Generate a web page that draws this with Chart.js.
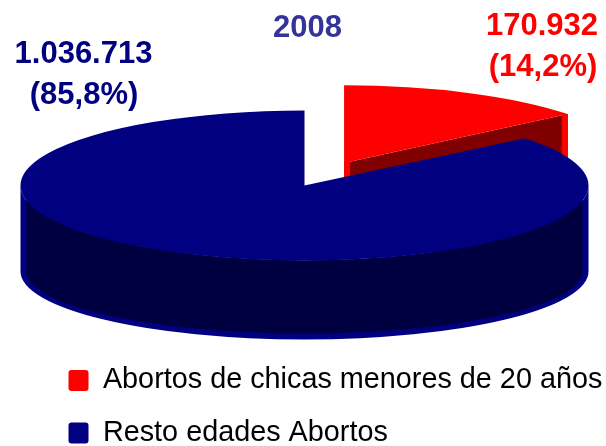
<!DOCTYPE html>
<html>
<head>
<meta charset="utf-8">
<style>
  html, body { margin: 0; padding: 0; background: #fff; }
  canvas { display: block; }
</style>
<script src="https://cdn.jsdelivr.net/npm/chart.js@4"></script>
</head>
<body>
<canvas id="chart" width="606" height="446"></canvas>
<script>
const categories = ["Abortos de chicas menores de 20 años", "Resto edades Abortos"];
const abortos = [170932, 1036713];
const sliceLabels = [["170.932", "(14,2%)"], ["1.036.713", "(85,8%)"]];
const chartTitle = "2008";

const topColors = ["#ff0000", "#000080"];
const wallColors = ["#800000", "#000040"];
const labelColors = ["#ff0000", "#000080"];

// where the flattened pie sits on the page
const centerX = 304.5;
const centerY = 185.5;
const radius = 284;
const flatten = 75 / 284;
const depth = 86;
const rimFlatten = 68 / 284;
const rim = 6;

// the red slice is pulled out and seen a bit more from above
const redRadius = 288;
const redFlatten = 0.27;
const redShift = 92;

function midAngle(arc) {
  return (arc.startAngle + arc.endAngle) / 2;
}

function drawBlueWall(ctx, arc) {
  const rx = arc.outerRadius;
  const ry = rx * flatten;
  const ryb = rx * rimFlatten;
  const bottomY = centerY + depth;

  ctx.beginPath();
  ctx.moveTo(centerX - rx, centerY);
  ctx.lineTo(centerX - rx, bottomY);
  ctx.ellipse(centerX, bottomY, rx, ryb, 0, Math.PI, 0, true);
  ctx.lineTo(centerX + rx, centerY);
  ctx.ellipse(centerX, centerY, rx, ry, 0, 0, Math.PI, false);
  ctx.fillStyle = topColors[1];
  ctx.fill();

  ctx.beginPath();
  ctx.moveTo(centerX - rx + rim, centerY);
  ctx.lineTo(centerX - rx + rim, bottomY);
  ctx.ellipse(centerX, bottomY, rx - rim, ryb - rim, 0, Math.PI, 0, true);
  ctx.lineTo(centerX + rx - rim, centerY);
  ctx.ellipse(centerX, centerY, rx - rim, ry, 0, 0, Math.PI, false);
  ctx.fillStyle = wallColors[1];
  ctx.fill();
}

function drawRedWall(ctx, arc) {
  const apexX = centerX + Math.cos(midAngle(arc)) * redShift;
  const apexY = centerY + Math.sin(midAngle(arc)) * redShift * redFlatten;
  const endX = apexX + Math.cos(arc.endAngle) * redRadius;
  const endY = apexY + Math.sin(arc.endAngle) * redRadius * redFlatten;

  ctx.beginPath();
  ctx.moveTo(apexX, apexY);
  ctx.lineTo(endX, endY);
  ctx.lineTo(endX, endY + depth);
  ctx.lineTo(apexX, apexY + depth);
  ctx.closePath();
  ctx.fillStyle = wallColors[0];
  ctx.fill();

  ctx.fillStyle = topColors[0];
  ctx.fillRect(apexX, apexY - 2, rim, depth);
  ctx.fillRect(endX - rim, endY, rim, depth);
}

function drawTop(ctx, arc, ratio) {
  ctx.save();
  ctx.translate(centerX, centerY);
  ctx.scale(1, ratio);
  ctx.translate(-arc.x, -arc.y);
  arc.draw(ctx);
  ctx.restore();
}

// with an offset the arc grows its radius and trims its angle a little, undo both
function drawRedTop(ctx, arc) {
  const { startAngle, endAngle } = arc;
  const grow = redShift * (1 - Math.sin(Math.min(Math.PI, arc.circumference)));
  const trim = grow / Math.PI / redRadius / 2;
  arc.outerRadius = redRadius - grow;
  arc.startAngle = startAngle - trim;
  arc.endAngle = endAngle + trim;
  drawTop(ctx, arc, redFlatten);
  arc.startAngle = startAngle;
  arc.endAngle = endAngle;
}

const pie3d = {
  id: "pie3d",
  afterLayout(chart) {
    chart.legend.left = 44.8;
    chart.legend.right = 606;
    chart.legend.top = 342.3;
    chart.legend.bottom = 700;
    chart.titleBlock.left = 4.5;
    chart.titleBlock.right = 610.5;
  },
  // the walls have to go under the tops, so the slices are drawn here
  beforeDatasetDraw(chart) {
    const ctx = chart.ctx;
    const arcs = chart.getDatasetMeta(0).data;
    drawRedWall(ctx, arcs[0]);
    drawBlueWall(ctx, arcs[1]);
    drawRedTop(ctx, arcs[0]);
    drawTop(ctx, arcs[1], flatten);
    return false;
  },
  afterDatasetsDraw(chart) {
    const ctx = chart.ctx;
    ctx.save();
    ctx.font = "bold 31px 'Liberation Sans'";
    ctx.textAlign = "center";
    ctx.textBaseline = "alphabetic";
    ctx.fillStyle = labelColors[0];
    ctx.fillText(sliceLabels[0][0], 542, 35);
    ctx.fillText(sliceLabels[0][1], 543, 76);
    ctx.fillStyle = labelColors[1];
    ctx.fillText(sliceLabels[1][0], 83.5, 63);
    ctx.fillText(sliceLabels[1][1], 84, 104);
    ctx.restore();
  },
};

new Chart(document.getElementById("chart"), {
  type: "pie",
  data: {
    labels: categories,
    datasets: [
      {
        data: abortos,
        backgroundColor: topColors,
        borderWidth: 0,
        offset: [redShift * 4, 0],
        radius: radius,
        clip: false,
      },
    ],
  },
  options: {
    responsive: false,
    animation: false,
    layout: { padding: 0 },
    plugins: {
      title: {
        display: true,
        text: chartTitle,
        color: "#333399",
        font: { family: "'Liberation Sans'", size: 31, weight: "bold" },
        padding: { top: 10, bottom: 0 },
      },
      legend: {
        position: "left",
        align: "start",
        // keeps the chart area wide enough for the big offset
        maxWidth: 100,
        labels: {
          boxWidth: 20,
          boxHeight: 21,
          padding: 23.7,
          useBorderRadius: true,
          borderRadius: 3,
          color: "#000000",
          font: { family: "'Liberation Sans'", size: 28.8 },
        },
      },
      tooltip: { enabled: false },
    },
  },
  plugins: [pie3d],
});
</script>
</body>
</html>
